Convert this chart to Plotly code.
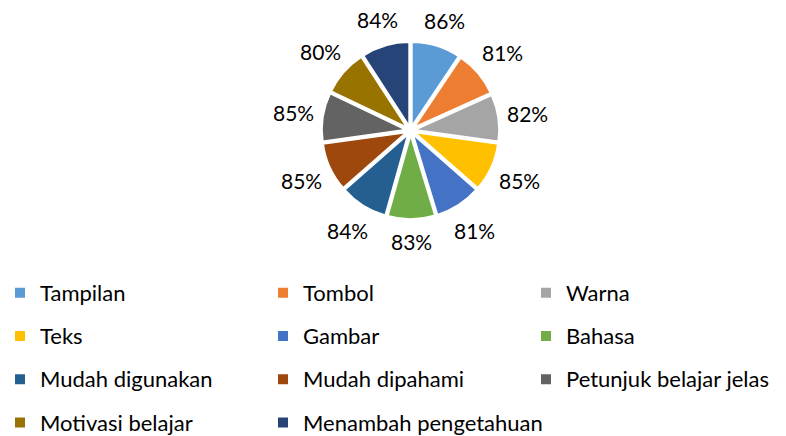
import math
import plotly.graph_objects as go

labels = ["Tampilan", "Tombol", "Warna", "Teks", "Gambar", "Bahasa",
          "Mudah digunakan", "Mudah dipahami", "Petunjuk belajar jelas",
          "Motivasi belajar", "Menambah pengetahuan"]
values = [86, 81, 82, 85, 81, 83, 84, 85, 85, 80, 84]
colors = ["#5B9BD5", "#ED7D31", "#A5A5A5", "#FFC000", "#4472C4", "#70AD47",
          "#255E91", "#9E480E", "#636363", "#997300", "#264478"]

FONT = "Lato"
W, H = 786, 436
cx, cy, R = 410.5, 130.5, 88.7      # pie centre and outer (exploded) radius, px
PULL = 0.05
LABEL_GAP_R = 100                   # distance of label box from centre, px
BOX_W, BOX_H = 34, 22               # approx label box size for placement

# legend text is set smaller than the legend font so rows get taller spacing
legend_labels = [f"<span style='font-size:22px;baseline-shift:4px'>{l}</span>" for l in labels]

fig = go.Figure(go.Pie(
    labels=legend_labels, values=values, sort=False, direction="clockwise", rotation=0,
    marker=dict(colors=colors, line=dict(color="white", width=2)),
    pull=PULL, textinfo="none",
    domain=dict(x=[(cx - R) / W, (cx + R) / W], y=[1 - (cy + R) / H, 1 - (cy - R) / H]),
    hoverinfo="value",
))

# data labels outside each slice, placed along the slice's mid angle
total = sum(values)
cum = 0
for v in values:
    theta = math.radians((cum + v / 2) / total * 360)
    cum += v
    s, c = math.sin(theta), math.cos(theta)
    d = LABEL_GAP_R + BOX_W / 2 * abs(s) + BOX_H / 2 * abs(c)
    px, py = cx + d * s, cy - d * c
    fig.add_annotation(x=px / W, y=1 - py / H, xref="paper", yref="paper",
                       text=f"{v}%", showarrow=False, xanchor="center", yanchor="middle",
                       font=dict(size=21, family=FONT, color="#000000"))

fig.update_layout(
    width=W, height=H, margin=dict(l=0, r=0, t=0, b=0, autoexpand=False),
    paper_bgcolor="white", plot_bgcolor="white",
    font=dict(family=FONT, size=19, color="#000000"),
    showlegend=True,
    legend=dict(orientation="h", x=0.0, xanchor="left", y=1 - 266 / H, yanchor="top",
                entrywidth=218, entrywidthmode="pixels",
                font=dict(size=31, family=FONT, color="#000000"),
                bgcolor="rgba(0,0,0,0)"),
)
fig.write_html("out.html")
